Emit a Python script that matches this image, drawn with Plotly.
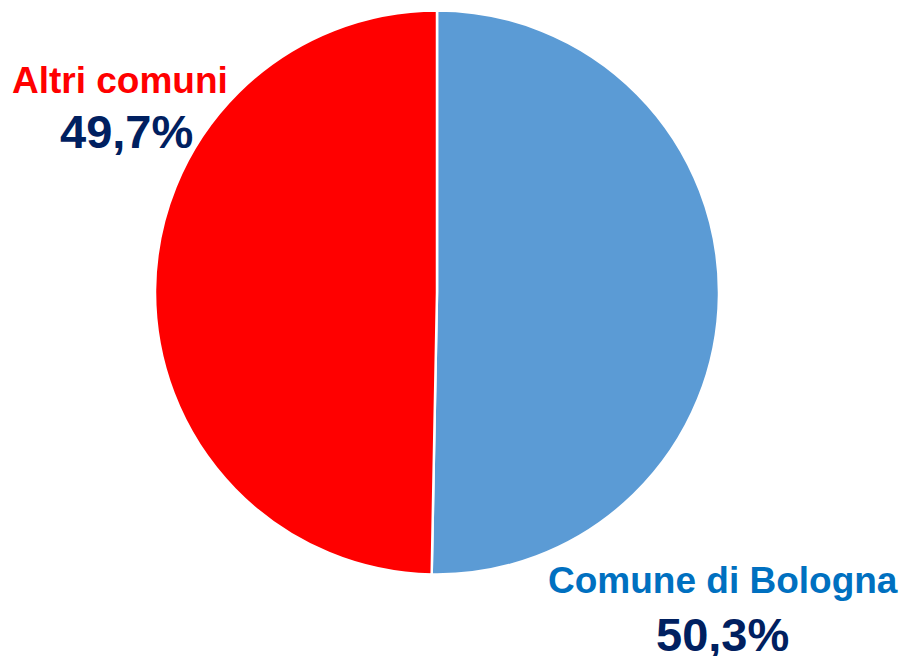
import plotly.graph_objects as go

# Share of the total by municipality
labels = ["Comune di Bologna", "Altri comuni"]
values = [50.3, 49.7]
slice_colors = ["#5B9BD5", "#FF0000"]
label_colors = ["#0070C0", "#FF0000"]
pct_text = ["50,3%", "49,7%"]

W, H = 906, 656

fig = go.Figure(
    go.Pie(
        labels=labels,
        values=values,
        sort=False,
        direction="clockwise",
        rotation=0,
        textinfo="none",
        hoverinfo="label+percent",
        marker=dict(colors=slice_colors, line=dict(color="white", width=2.5)),
        domain=dict(x=[155 / W, 719 / W], y=[1 - 574.5 / H, 1 - 10.5 / H]),
        showlegend=False,
    )
)

font = "Liberation Sans, Arial, sans-serif"


def px(x, y):
    return x / W, 1 - y / H


# (label index, name center x, name center y, pct center x, pct center y)
placements = [
    (1, 120, 80, 126.5, 131),
    (0, 722.5, 580, 722, 634),
]
for i, nx, ny, vx, vy in placements:
    x0, y0 = px(nx, ny)
    fig.add_annotation(
        x=x0, y=y0, xref="paper", yref="paper", showarrow=False,
        xanchor="center", yanchor="middle",
        text=f"<b>{labels[i]}</b>",
        font=dict(family=font, size=37, color=label_colors[i]),
    )
    x1, y1 = px(vx, vy)
    fig.add_annotation(
        x=x1, y=y1, xref="paper", yref="paper", showarrow=False,
        xanchor="center", yanchor="middle",
        text=f"<b>{pct_text[i]}</b>",
        font=dict(family=font, size=47, color="#002060"),
    )

fig.update_layout(
    width=W, height=H,
    margin=dict(l=0, r=0, t=0, b=0),
    paper_bgcolor="white",
    plot_bgcolor="white",
)

fig.write_html("out.html")
